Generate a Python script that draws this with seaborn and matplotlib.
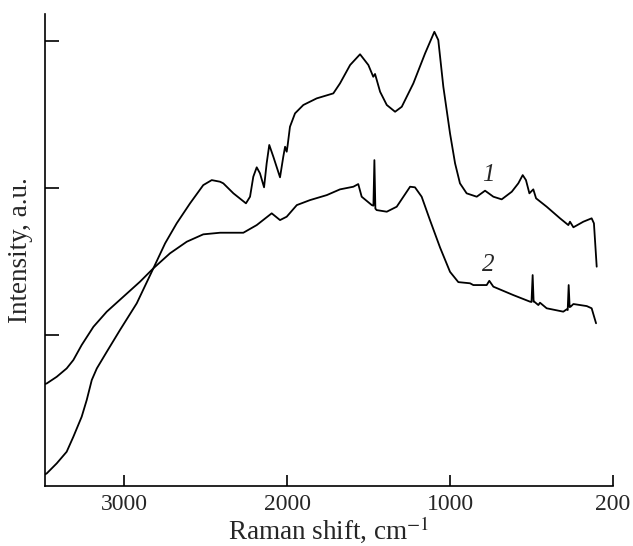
import matplotlib
matplotlib.use("Agg")
import matplotlib.pyplot as plt
import seaborn as sns
import pandas as pd

# Curve 1 (Raman shift cm^-1, intensity a.u.)
x1 = [3485, 3474, 3413, 3352, 3311, 3260, 3229, 3198, 3167, 3106, 3025, 2922, 2820, 2748, 2677,
      2595, 2514, 2462, 2411, 2391, 2329, 2252, 2227, 2207, 2186, 2166, 2141, 2125, 2109, 2084,
      2043, 2023, 2012, 2002, 1996, 1982, 1951, 1900, 1818, 1716, 1675, 1613, 1552, 1501, 1471,
      1460, 1429, 1388, 1337, 1296, 1225, 1153, 1096, 1072, 1041, 1000, 969, 939, 898, 836, 785,
      734, 683, 621, 581, 554, 534, 513, 489, 472, 407, 325, 274, 264, 243, 182, 131, 117, 100]
y1 = [0.052, 0.059, 0.127, 0.206, 0.308, 0.444, 0.558, 0.694, 0.773, 0.886, 1.034, 1.216, 1.454, 1.624, 1.760,
      1.896, 2.020, 2.054, 2.043, 2.032, 1.964, 1.896, 1.941, 2.077, 2.141, 2.100, 2.005, 2.168, 2.293, 2.213,
      2.073, 2.213, 2.281, 2.247, 2.293, 2.417, 2.508, 2.565, 2.610, 2.644, 2.712, 2.837, 2.910, 2.837, 2.757,
      2.776, 2.655, 2.565, 2.519, 2.553, 2.712, 2.916, 3.063, 3.007, 2.689, 2.372, 2.168, 2.032, 1.964, 1.941, 1.982,
      1.941, 1.923, 1.975, 2.032, 2.088, 2.054, 1.964, 1.991, 1.930, 1.873, 1.794, 1.748, 1.771, 1.733, 1.771, 1.794, 1.760, 1.465]

# Curve 2
x2 = [3485, 3474, 3413, 3352, 3311, 3260, 3188, 3106, 3004, 2902, 2820, 2718, 2615, 2514, 2411,
      2268, 2186, 2094, 2043, 2002, 1940, 1859, 1756, 1675, 1593, 1563, 1542, 1480, 1470, 1464,
      1458, 1450, 1388, 1327, 1245, 1215, 1174, 1123, 1061, 1000, 949, 877, 857, 775, 759, 734,
      612, 509, 500, 493, 487, 483, 458, 448, 407, 305, 284, 278, 272, 266, 260, 243, 161, 131, 104]
y2 = [0.667, 0.671, 0.716, 0.773, 0.830, 0.932, 1.056, 1.159, 1.261, 1.363, 1.454, 1.556, 1.635, 1.685, 1.696,
      1.696, 1.748, 1.828, 1.782, 1.805, 1.884, 1.918, 1.952, 1.991, 2.009, 2.027, 1.941, 1.884, 1.880, 2.190,
      1.860, 1.850, 1.839, 1.873, 2.009, 2.005, 1.941, 1.782, 1.595, 1.430, 1.360, 1.352, 1.340, 1.340, 1.369, 1.329,
      1.272, 1.227, 1.225, 1.408, 1.227, 1.227, 1.204, 1.220, 1.182, 1.159, 1.175, 1.170, 1.340, 1.190, 1.193, 1.211, 1.197, 1.182, 1.080]

xticks = [3000, 2000, 1000, 0]
xtick_labels = ["3000", "2000", "1000", "200"]
yticks = [1, 2, 3]
curve_labels = ["1", "2"]
label_pos_x = [767, 767]
label_pos_y = [2.088, 1.476]

sns.set_theme(style="ticks")
plt.rcParams['font.family'] = ['Liberation Serif', 'DejaVu Serif']
plt.rcParams['mathtext.fontset'] = 'stix'

fig = plt.figure(figsize=(6.33, 5.46), dpi=100)
ax = fig.add_axes([45/633, 1-486/546, (613-45)/633, (486-14)/546])

d1 = pd.DataFrame({"x": x1, "y": y1})
d2 = pd.DataFrame({"x": x2, "y": y2})
for d in (d1, d2):
    sns.lineplot(data=d, x="x", y="y", ax=ax, color="black", lw=1.3, sort=False,
                 estimator=None, solid_joinstyle="round", solid_capstyle="round")

ax.set_xlim(3485, 0)
ax.set_ylim(-0.027, 3.184)
ax.set_xticks(xticks)
ax.set_xticklabels(xtick_labels, fontsize=17)
ax.set_yticks(yticks)
ax.set_yticklabels([])
ax.tick_params(axis='x', direction='in', length=8, width=1.2, color='black', pad=6)
ax.tick_params(axis='y', direction='in', length=10, width=1.2, color='black')
for s in ['top', 'right']:
    ax.spines[s].set_visible(False)
for s in ['left', 'bottom']:
    ax.spines[s].set_color('black')
    ax.spines[s].set_linewidth(1.2)

ax.set_xlabel(r"Raman shift, cm$^{-1}$", fontsize=19.5, labelpad=-1)
ax.set_ylabel("Intensity, a.u.", fontsize=19.5, labelpad=5)

for t, lx, ly in zip(curve_labels, label_pos_x, label_pos_y):
    ax.text(lx, ly, t, fontsize=18, style='italic', ha='center', va='center')

fig.savefig("out.png", dpi=100)
